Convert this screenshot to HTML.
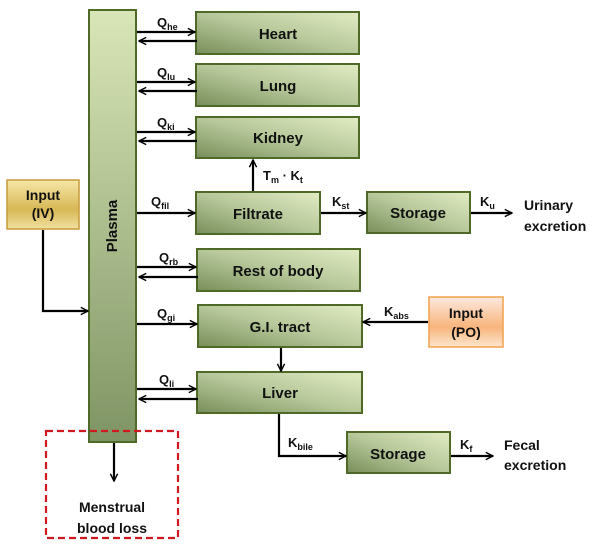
<!DOCTYPE html>
<html><head><meta charset="utf-8"><style>
html,body{margin:0;padding:0;background:#fff;}
svg{display:block;font-family:"Liberation Sans",Arial,sans-serif;font-weight:bold;}
</style></head><body>
<svg width="610" height="547" viewBox="0 0 610 547" xmlns="http://www.w3.org/2000/svg">
<defs>
<linearGradient id="g" x1="0" y1="1" x2="1" y2="0"><stop offset="0" stop-color="#788e5a"/><stop offset="0.5" stop-color="#b7c89a"/><stop offset="1" stop-color="#e2ecc4"/></linearGradient>
<linearGradient id="pg" x1="0" y1="0" x2="0" y2="1"><stop offset="0" stop-color="#d9e6b8"/><stop offset="1" stop-color="#7f9464"/></linearGradient>
<linearGradient id="iv" x1="0" y1="0" x2="0" y2="1"><stop offset="0" stop-color="#f6e7a8"/><stop offset="0.6" stop-color="#d7b855"/><stop offset="1" stop-color="#f1e0a0"/></linearGradient>
<linearGradient id="po" x1="0" y1="0" x2="0" y2="1"><stop offset="0" stop-color="#fde9e0"/><stop offset="0.6" stop-color="#f8b57c"/><stop offset="1" stop-color="#fde6cf"/></linearGradient>
<marker id="a" viewBox="0 0 10 10" refX="9" refY="5" markerWidth="9" markerHeight="9" markerUnits="userSpaceOnUse" orient="auto"><path d="M1,1 L9,5 L1,9" fill="none" stroke="#000" stroke-width="1.6"/></marker>
</defs>
<g stroke="#4f6a26" stroke-width="2">
<rect x="89" y="10" width="47" height="432" fill="url(#pg)"/>
<rect x="196" y="12" width="163" height="42" fill="url(#g)"/>
<rect x="196" y="64" width="163" height="42" fill="url(#g)"/>
<rect x="196" y="117" width="163" height="41" fill="url(#g)"/>
<rect x="196" y="192" width="124" height="42" fill="url(#g)"/>
<rect x="367" y="192" width="103" height="41" fill="url(#g)"/>
<rect x="197" y="249" width="163" height="42" fill="url(#g)"/>
<rect x="198" y="305" width="164" height="42" fill="url(#g)"/>
<rect x="197" y="372" width="165" height="41" fill="url(#g)"/>
<rect x="347" y="432" width="103" height="41" fill="url(#g)"/>
</g>
<rect x="7" y="180" width="72" height="49" fill="url(#iv)" stroke="#c79a3a" stroke-width="1.5"/>
<rect x="429" y="297" width="74" height="50" fill="url(#po)" stroke="#f2a04a" stroke-width="1.5"/>
<rect x="46" y="431" width="132" height="107" fill="none" stroke="#d0181f" stroke-width="2.2" stroke-dasharray="7,4"/>
<g stroke="#000" stroke-width="2.2" fill="none">
<line x1="137" y1="32" x2="195" y2="32" marker-end="url(#a)"/><line x1="197" y1="41" x2="139" y2="41" marker-end="url(#a)"/>
<line x1="137" y1="82" x2="195" y2="82" marker-end="url(#a)"/><line x1="197" y1="91" x2="139" y2="91" marker-end="url(#a)"/>
<line x1="137" y1="132" x2="195" y2="132" marker-end="url(#a)"/><line x1="197" y1="141" x2="139" y2="141" marker-end="url(#a)"/>
<line x1="137" y1="213" x2="195" y2="213" marker-end="url(#a)"/>
<line x1="137" y1="267" x2="196" y2="267" marker-end="url(#a)"/><line x1="198" y1="277" x2="139" y2="277" marker-end="url(#a)"/>
<line x1="137" y1="324" x2="197" y2="324" marker-end="url(#a)"/>
<line x1="137" y1="389" x2="196" y2="389" marker-end="url(#a)"/><line x1="198" y1="399" x2="139" y2="399" marker-end="url(#a)"/>
<line x1="253" y1="191" x2="253" y2="160" marker-end="url(#a)"/>
<line x1="321" y1="213" x2="366" y2="213" marker-end="url(#a)"/>
<line x1="471" y1="213" x2="512" y2="213" marker-end="url(#a)"/>
<line x1="428" y1="322" x2="363" y2="322" marker-end="url(#a)"/>
<line x1="281" y1="348" x2="281" y2="371" marker-end="url(#a)"/>
<polyline points="279,414 279,456 346,456" marker-end="url(#a)"/>
<line x1="451" y1="456" x2="493" y2="456" marker-end="url(#a)"/>
<polyline points="43,230 43,311 88,311" marker-end="url(#a)"/>
<line x1="114" y1="443" x2="114" y2="481" marker-end="url(#a)"/>
</g>
<g font-size="15" text-anchor="middle" fill="#111">
<text x="278" y="39">Heart</text>
<text x="278" y="91">Lung</text>
<text x="278" y="143">Kidney</text>
<text x="258" y="219">Filtrate</text>
<text x="418" y="218">Storage</text>
<text x="278" y="276">Rest of body</text>
<text x="280" y="332">G.I. tract</text>
<text x="280" y="398">Liver</text>
<text x="398" y="459">Storage</text>
<text x="43" y="200" font-size="14">Input</text><text x="43" y="218" font-size="14">(IV)</text>
<text x="466" y="318" font-size="14">Input</text><text x="466" y="337" font-size="14">(PO)</text>
<text x="112" y="533" font-size="14">blood loss</text><text x="112" y="512" font-size="14">Menstrual</text>
<text transform="translate(117,226) rotate(-90)" font-size="15">Plasma</text>
</g>
<g font-size="14" fill="#111">
<text x="524" y="210">Urinary</text><text x="524" y="231">excretion</text>
<text x="504" y="450">Fecal</text><text x="504" y="470">excretion</text>
</g>
<g font-size="13" fill="#111">
<text x="157" y="27">Q<tspan font-size="9" dy="3">he</tspan></text>
<text x="157" y="77">Q<tspan font-size="9" dy="3">lu</tspan></text>
<text x="157" y="127">Q<tspan font-size="9" dy="3">ki</tspan></text>
<text x="151" y="206">Q<tspan font-size="9" dy="3">fil</tspan></text>
<text x="159" y="262">Q<tspan font-size="9" dy="3">rb</tspan></text>
<text x="157" y="318">Q<tspan font-size="9" dy="3">gi</tspan></text>
<text x="159" y="384">Q<tspan font-size="9" dy="3">li</tspan></text>
<text x="263" y="180">T<tspan font-size="9" dy="3">m</tspan><tspan dy="-3"> · K</tspan><tspan font-size="9" dy="3">t</tspan></text>
<text x="332" y="206">K<tspan font-size="9" dy="3">st</tspan></text>
<text x="480" y="206">K<tspan font-size="9" dy="3">u</tspan></text>
<text x="384" y="316">K<tspan font-size="9" dy="3">abs</tspan></text>
<text x="288" y="447">K<tspan font-size="9" dy="3">bile</tspan></text>
<text x="460" y="449">K<tspan font-size="9" dy="3">f</tspan></text>
</g>
</svg>
</body></html>
